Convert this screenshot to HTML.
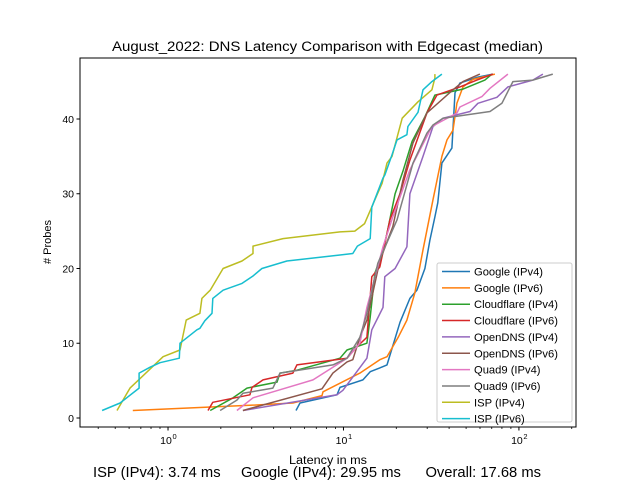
<!DOCTYPE html>
<html><head><meta charset="utf-8"><style>
body{margin:0;background:#fff;}
svg{font-family:"Liberation Sans","DejaVu Sans",sans-serif;}
</style></head><body>
<svg id="chart" width="640" height="480" xmlns="http://www.w3.org/2000/svg">
<rect width="640" height="480" fill="#fff"/>
<text x="112" y="51" font-size="14.2" textLength="431" lengthAdjust="spacingAndGlyphs">August_2022: DNS Latency Comparison with Edgecast (median)</text>
<g id="marks"></g>
<rect x="80" y="58" width="496" height="369" fill="none" stroke="#000" stroke-width="1"/>
<g id="axes"></g>
<text x="289" y="464" font-size="11.5" textLength="78" lengthAdjust="spacingAndGlyphs">Latency in ms</text>
<text transform="translate(51,242) rotate(-90)" font-size="11" text-anchor="middle"># Probes</text>
<text x="93" y="477" font-size="14.5" xml:space="preserve" textLength="448" lengthAdjust="spacingAndGlyphs">ISP (IPv4): 3.74 ms     Google (IPv4): 29.95 ms      Overall: 17.68 ms</text>
<g id="legend"></g>
</svg>
<script>
const seriesNames=["Google (IPv4)","Google (IPv6)","Cloudflare (IPv4)","Cloudflare (IPv6)","OpenDNS (IPv4)","OpenDNS (IPv6)","Quad9 (IPv4)","Quad9 (IPv6)","ISP (IPv4)","ISP (IPv6)"];
const colors=["#1f77b4","#ff7f0e","#2ca02c","#d62728","#9467bd","#8c564b","#e377c2","#7f7f7f","#bcbd22","#17becf"];
const googleV4Lat=[5.36,5.65,9.18,9.55,12.9,14.2,16.1,17.7,21.0,23.9,26.2,29.1,31.1,33.2,34.5,36.4,41.5,43.2,46.1,58.4,71.1];
const googleV4Cnt=[1,2,3.1,4.1,5.1,6.2,6.7,7.1,12.8,16,17.1,20,23.8,26.9,28.8,34.1,36.1,43.5,44.8,45.6,46];
const googleV6Lat=[0.63,2.93,5.15,7.54,7.64,12.4,16.1,17.7,20.5,23.0,25.5,28.4,32.4,36.4,38.9,42.1,44.3,48.0,54.7,73.0];
const googleV6Cnt=[1,1.7,2,3,3.5,6,7.8,8.2,10.8,13.1,16.7,22.5,29.2,35,37.2,38.5,42.1,44.3,45.3,46];
const cfV4Lat=[1.74,2.35,2.82,4.18,4.35,5.43,9.55,10.47,13.6,14.2,15.1,16.6,17.7,19.7,21.8,24.6,29.1,33.2,48.0,64.0,70.2];
const cfV4Cnt=[1,2.7,4,4.8,6,6.4,8,9.1,10,13.5,19.4,22,24.7,30,33,37,40.3,43.2,44,45.2,46];
const cfV6Lat=[1.69,1.80,2.93,3.01,3.48,5.15,5.43,10.47,11.9,13.6,14.5,16.1,18.4,21.0,23.9,29.9,34.1,46.1,57.6,71.1];
const cfV6Cnt=[1,2.1,3.1,4.1,5.1,6,7.1,8,9.5,10.8,18.9,20.2,26.5,30,34.5,40.8,43.2,44.3,45.2,46];
const odV4Lat=[2.67,9.18,9.93,13.6,14.5,16.8,17.2,19.7,23.0,23.9,28.4,32.4,36.9,52.6,58.4,74.9,86.5,120,137];
const odV4Cnt=[1,3.1,3.7,8,11.8,14.8,18.9,20,22.9,30,35,39,40.1,41,42.1,42.9,44.3,45.2,46];
const odV6Lat=[2.67,7.54,8.71,10.47,11.3,12.4,13.6,16.1,19.1,21.8,24.9,29.9,42.1,48.0,59.9];
const odV6Cnt=[1,3.9,6,7.5,7.8,10.8,13.1,21,25.6,31.8,36.8,40.8,43.9,45,46];
const q9V4Lat=[2.47,3.05,6.70,8.71,10.47,12.4,13.6,16.8,19.1,23.9,31.9,44.3,46.1,61.5,68.4,86.5];
const q9V4Cnt=[1,2.7,5.1,6.8,8,10,14.8,22.9,26.9,33.2,39,40.8,41.6,43,44.1,46];
const q9V6Lat=[1.98,2.47,2.67,3.96,4.35,8.71,10.47,12.4,13.6,15.7,20.2,24.9,29.9,32.4,36.9,68.4,80.0,92.4,120,156];
const q9V6Cnt=[1,2.4,3.3,4,6,7.1,8,10.8,14,20.7,26.5,34.1,38.1,39.2,40.1,41,42.1,45,45.2,46];
const ispV4Lat=[0.512,0.607,0.937,1.17,1.27,1.52,1.56,1.74,2.06,2.64,3.05,3.05,4.52,9.55,11.6,13.2,15.1,16.6,17.7,18.9,21.6,26.6,31.9,33.2,33.2];
const ispV4Cnt=[1,4,8.2,9.1,13.1,14,16,17.1,20,21,22,23,24,24.9,25,26,29.2,31.4,34.1,35,40.1,42.3,43.9,45.5,46];
const ispV6Lat=[0.421,0.533,0.684,0.684,0.79,0.90,1.16,1.17,1.46,1.52,1.62,1.78,1.80,2.06,2.64,3.05,3.43,4.76,9.55,11.3,12.0,14.2,14.5,16.8,17.2,18.9,20.2,23.0,23.3,26.6,28.4,31.9,36.4];
const ispV6Cnt=[1,2,4,6,6.8,7.4,8,10,11.8,12,13,14,16,17.1,18,19,20,21,21.8,22,23,24,28.2,32.1,32.5,35.2,37.2,37.9,39,40.9,43.9,45,46];
const yTicks=[0,10,20,30,40];
const xMajor=[1,10,100];
const xMajorLabels=["0","1","2"];

const NS="http://www.w3.org/2000/svg";
const X0=80,X1=576,Y0=58,Y1=427;
const LMIN=Math.log10(0.315),LMAX=Math.log10(211.5);
function xs(v){return X0+(Math.log10(v)-LMIN)/(LMAX-LMIN)*(X1-X0);}
const YMIN=-1.204,YMAX=48.16;
function ys(v){return Y1-(v-YMIN)/(YMAX-YMIN)*(Y1-Y0);}
function mk(t,a,p){const e=document.createElementNS(NS,t);for(const k in a)e.setAttribute(k,a[k]);p.appendChild(e);return e;}

const lats=[googleV4Lat,googleV6Lat,cfV4Lat,cfV6Lat,odV4Lat,odV6Lat,q9V4Lat,q9V6Lat,ispV4Lat,ispV6Lat];
const cnts=[googleV4Cnt,googleV6Cnt,cfV4Cnt,cfV6Cnt,odV4Cnt,odV6Cnt,q9V4Cnt,q9V6Cnt,ispV4Cnt,ispV6Cnt];
const marks=document.getElementById('marks');
lats.forEach((L,i)=>{
  const pts=L.map((v,j)=>xs(v).toFixed(1)+","+ys(cnts[i][j]).toFixed(1)).join(" ");
  const pl=mk('polyline',{points:pts,fill:'none',stroke:colors[i],'stroke-width':1.5,'stroke-linejoin':'round'},marks);
  
  
});

const axes=document.getElementById('axes');
yTicks.forEach(t=>{
  const y=ys(t);
  const l=mk('line',{x1:X0-3.5,x2:X0,y1:y,y2:y,stroke:'#000'},axes);
  
  
  const tx=mk('text',{x:X0-6,y:y+3.8,'font-size':10.5,'text-anchor':'end'},axes);
  tx.textContent=t;
  
  
});
xMajor.forEach((t,i)=>{
  const x=xs(t);
  const l=mk('line',{x1:x,x2:x,y1:Y1,y2:Y1+3.5,stroke:'#000'},axes);
  
  
  const tx=mk('text',{x:x-2,y:Y1+17,'font-size':10.5,'text-anchor':'middle'},axes);
  tx.textContent="10";
  
  
  const sp=mk('text',{x:x+4.5,y:Y1+12,'font-size':7.5},axes);
  sp.textContent=xMajorLabels[i];
  
  
});
[0.1,1,10,100].forEach(d=>{for(let m=2;m<=9;m++){const v=d*m;const x=xs(v);if(x<X0||x>X1)continue;
  const l=mk('line',{x1:x,x2:x,y1:Y1,y2:Y1+2,stroke:'#000','stroke-width':0.8},axes);
  
  }});

const lg=document.getElementById('legend');
const box=mk('rect',{x:437,y:263,width:135,height:159,rx:2,fill:'#fff','fill-opacity':0.8,stroke:'#ccc'},lg);


seriesNames.forEach((n,i)=>{
  const y=271.5+i*16.35;
  const g=mk('g',{},lg);
  
  
  mk('line',{x1:442,x2:470,y1:y,y2:y,stroke:colors[i],'stroke-width':1.5},g);
  const t=mk('text',{x:474,y:y+4,'font-size':11.2},g);
  t.textContent=n;
});
</script>
</body></html>
